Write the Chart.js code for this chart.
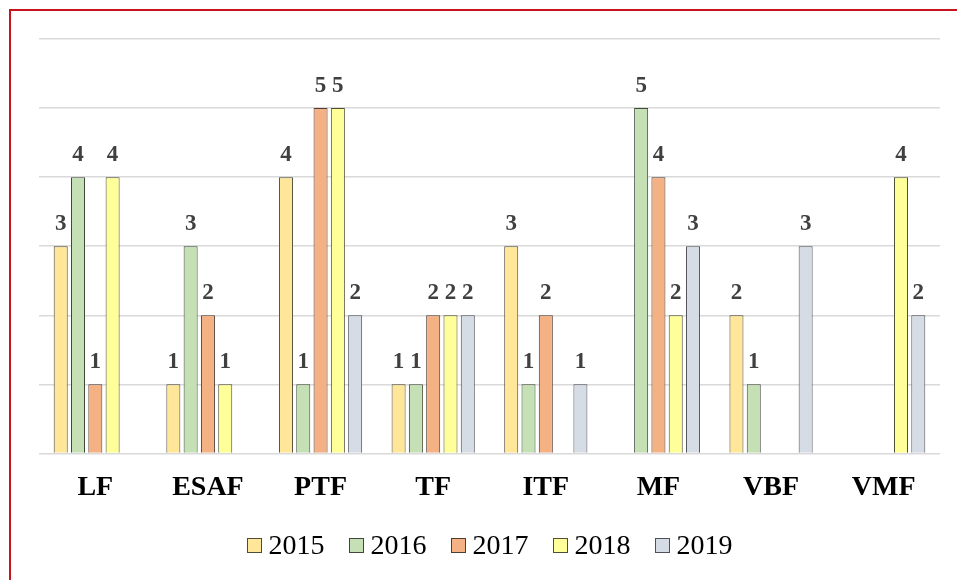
<!DOCTYPE html>
<html>
<head>
<meta charset="utf-8">
<script src="https://cdn.jsdelivr.net/npm/chart.js@4"></script>
<style>
  body { margin: 0; background: #fff; }
  #wrap { position: relative; width: 957px; height: 580px; overflow: hidden; }
  #frame {
    position: absolute; left: 9px; top: 9px; width: 1000px; height: 600px;
    border-left: 2px solid #c8151d; border-top: 2px solid #c8151d;
    pointer-events: none;
  }
  #legend {
    position: absolute; left: 39px; width: 901px; top: 528px; height: 34px;
    display: flex; justify-content: center; align-items: center;
    font-family: 'Liberation Serif', 'Times New Roman', serif; font-size: 28px; color: #000;
  }
  .item { display: flex; align-items: center; margin-right: 24px; }
  .item:last-child { margin-right: 0; }
  .box { width: 13px; height: 13px; border: 1px solid #6b6b6b; margin-right: 7px; }
</style>
</head>
<body>
<div id="wrap">
  <canvas id="graphCanvas" width="957" height="580"></canvas>
  <div id="frame"></div>
  <div id="legend"></div>
</div>
<script>
// categories and values per year (null = no bar)
const categories = ['LF', 'ESAF', 'PTF', 'TF', 'ITF', 'MF', 'VBF', 'VMF'];
const years = ['2015', '2016', '2017', '2018', '2019'];
const v2015 = [3, 1, 4, 1, 3, null, 2, null];
const v2016 = [4, 3, 1, 1, 1, 5, 1, null];
const v2017 = [1, 2, 5, 2, 2, 4, null, null];
const v2018 = [4, 1, 5, 2, null, 2, null, 4];
const v2019 = [null, null, 2, 2, 1, 3, 3, 2];
const yTicks = [0, 1, 2, 3, 4, 5, 6];

const colors = ['#ffe699', '#c5e0b4', '#f4b183', '#ffff99', '#d6dce5'];
const borders = ['#4f4b3a', '#3f4839', '#4f3d31', '#4f4f36', '#4e5157'];
const serif = "'Liberation Serif', 'Times New Roman', serif";

// value labels above the bars
const barLabels = {
    id: 'barLabels',
    afterDatasetsDraw(chart) {
        const ctx = chart.ctx;
        ctx.save();
        ctx.font = 'bold 23px ' + serif;
        ctx.fillStyle = '#404040';
        ctx.textAlign = 'center';
        ctx.textBaseline = 'alphabetic';
        chart.data.datasets.forEach((ds, i) => {
            chart.getDatasetMeta(i).data.forEach((bar, j) => {
                if (ds.data[j] === null) return;
                ctx.fillText(String(ds.data[j]), bar.x, bar.y - 16);
            });
        });
        ctx.restore();
    }
};

function initializeChart() {
    const series = [v2015, v2016, v2017, v2018, v2019];
    const ctx = document.getElementById('graphCanvas').getContext('2d');
    new Chart(ctx, {
        type: 'bar',
        data: {
            labels: categories,
            datasets: years.map((y, i) => ({
                label: y,
                data: series[i],
                backgroundColor: colors[i],
                borderColor: borders[i],
                borderWidth: 1,
                categoryPercentage: 0.768,
                barPercentage: 0.81
            }))
        },
        options: {
            responsive: false,
            animation: false,
            layout: { padding: { left: 39, right: 17, top: 39, bottom: 57 } },
            plugins: {
                legend: { display: false },
                tooltip: { enabled: false }
            },
            scales: {
                x: {
                    grid: { display: false, drawTicks: false },
                    border: { display: false },
                    ticks: {
                        padding: 18,
                        color: '#000',
                        font: { family: serif, size: 28, weight: 'bold' }
                    }
                },
                y: {
                    min: 0,
                    max: 6,
                    afterBuildTicks(axis) {
                        axis.ticks = yTicks.map(v => ({ value: v }));
                    },
                    grid: { color: '#d9d9d9', lineWidth: 1.5, drawTicks: false },
                    border: { display: false },
                    ticks: { display: false }
                }
            }
        },
        plugins: [barLabels]
    });

    // legend built from the same years / colours
    const legend = document.getElementById('legend');
    years.forEach((y, i) => {
        const item = document.createElement('div');
        item.className = 'item';
        const box = document.createElement('span');
        box.className = 'box';
        box.style.background = colors[i];
        box.style.borderColor = borders[i];
        const txt = document.createElement('span');
        txt.textContent = y;
        item.appendChild(box);
        item.appendChild(txt);
        legend.appendChild(item);
    });
}

window.onload = initializeChart;
</script>
</body>
</html>
